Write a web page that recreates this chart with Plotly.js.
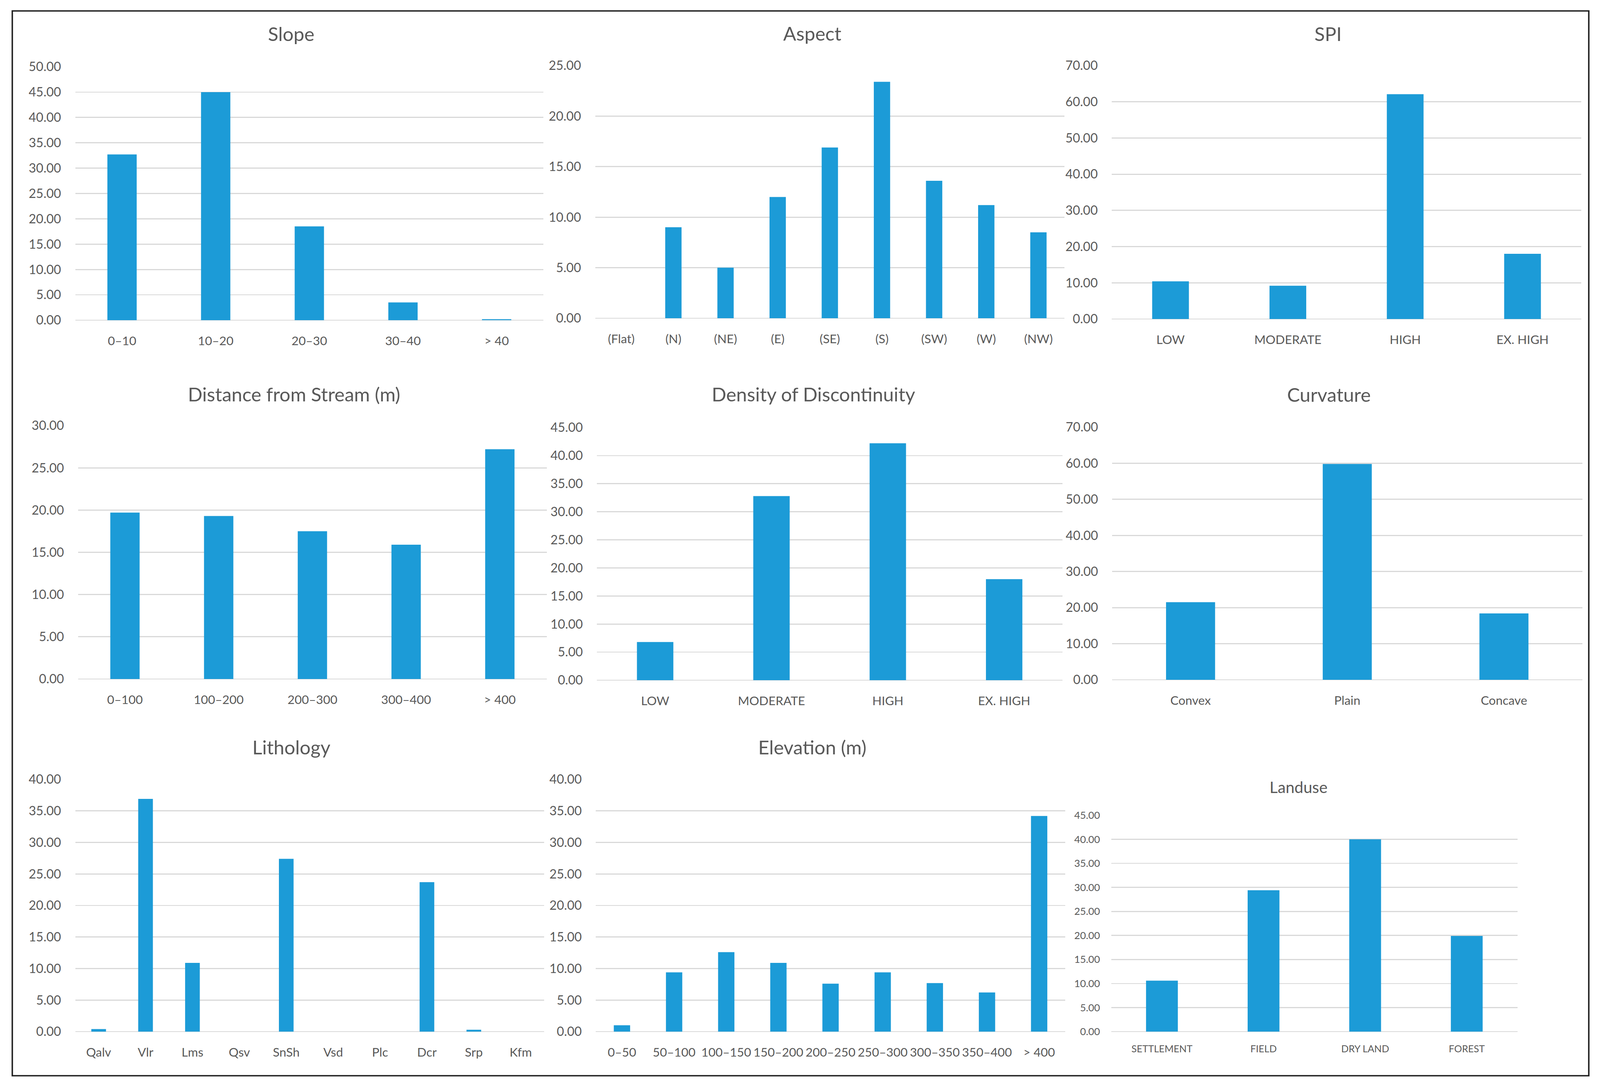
<!DOCTYPE html>
<html>
<head>
<meta charset="utf-8">
<script src="https://cdn.plot.ly/plotly-3.0.1.min.js"></script>
<style>
html,body{margin:0;padding:0;background:#fff;overflow:hidden;width:100%;height:100%;}
#chart{width:100vw;height:100vh;}
</style>
</head>
<body>
<div id="chart"></div>
<script>
// ---- Data ----
const slopeCats = ["0–10", "10–20", "20–30", "30–40", "> 40"];
const slopeVals = [32.7, 45.0, 18.5, 3.5, 0.2];

const aspectCats = ["(Flat)", "(N)", "(NE)", "(E)", "(SE)", "(S)", "(SW)", "(W)", "(NW)"];
const aspectVals = [0, 9.0, 5.0, 12.0, 16.9, 23.4, 13.6, 11.2, 8.5];

const spiCats = ["LOW", "MODERATE", "HIGH", "EX. HIGH"];
const spiVals = [10.4, 9.2, 62.1, 18.0];

const streamCats = ["0–100", "100–200", "200–300", "300–400", "> 400"];
const streamVals = [19.7, 19.3, 17.5, 15.9, 27.2];

const densityCats = ["LOW", "MODERATE", "HIGH", "EX. HIGH"];
const densityVals = [6.8, 32.8, 42.2, 18.0];

const curvCats = ["Convex", "Plain", "Concave"];
const curvVals = [21.5, 59.8, 18.4];

const lithoCats = ["Qalv", "Vlr", "Lms", "Qsv", "SnSh", "Vsd", "Plc", "Dcr", "Srp", "Kfm"];
const lithoVals = [0.4, 36.9, 10.9, 0, 27.4, 0, 0, 23.7, 0.3, 0];

const elevCats = ["0–50", "50–100", "100–150", "150–200", "200–250", "250–300", "300–350", "350–400", "> 400"];
const elevVals = [1.0, 9.4, 12.6, 10.9, 7.6, 9.4, 7.7, 6.2, 34.2];

const landCats = ["SETTLEMENT", "FIELD", "DRY LAND", "FOREST"];
const landVals = [10.6, 29.4, 40.0, 19.9];

const titles = ["Slope", "Aspect", "SPI", "Distance from Stream (m)", "Density of Discontinuity",
                "Curvature", "Lithology", "Elevation (m)", "Landuse"];
const yMax = [50, 25, 70, 30, 45, 70, 40, 40, 45];
const yStep = [5, 5, 10, 5, 5, 10, 5, 5, 5];

// ---- Layout geometry (reference pixels, 4425 x 2789) ----
const RW = 4425, RH = 2789;
const W = window.innerWidth || RW;
const H = window.innerHeight || RH;
const SX = W / RW, SY = H / RH;
const S = Math.min(SX, SY);

const boxes = [
  {x0:208,  x1:1503, yTop:171,  yBot:820,  tx:805,  ty:86},
  {x0:1646, x1:2944, yTop:168,  yBot:815,  tx:2246, ty:85},
  {x0:3075, x1:4373, yTop:168,  yBot:817,  tx:3673, ty:86},
  {x0:216,  x1:1512, yTop:1090, yBot:1739, tx:814,  ty:1009},
  {x0:1651, x1:2938, yTop:1095, yBot:1742, tx:2250, ty:1009},
  {x0:3076, x1:4376, yTop:1094, yBot:1741, tx:3675, ty:1010},
  {x0:208,  x1:1505, yTop:1996, yBot:2642, tx:806,  ty:1913},
  {x0:1648, x1:2946, yTop:1996, yBot:2642, tx:2246, ty:1913},
  {x0:3073, x1:4197, yTop:2088, yBot:2642, tx:3592, ty:2015}
];

const cats = [slopeCats, aspectCats, spiCats, streamCats, densityCats, curvCats, lithoCats, elevCats, landCats];
const vals = [slopeVals, aspectVals, spiVals, streamVals, densityVals, curvVals, lithoVals, elevVals, landVals];

const BAR = "#1c9bd7";
const TXT = "#595959";
const FONT = "Lato, 'Open Sans', sans-serif";
const CLEAR = "rgba(0,0,0,0)";

const data = [];
const layout = {
  width: W, height: H,
  margin: {l:0, r:0, t:0, b:0},
  paper_bgcolor: "#ffffff",
  plot_bgcolor: "#ffffff",
  showlegend: false,
  bargap: 0.687,
  font: {family: FONT, color: TXT},
  annotations: [],
  shapes: [{
    type: "rect", xref: "paper", yref: "paper",
    x0: 34 / RW, x1: 4394 / RW, y0: 1 - 2755 / RH, y1: 1 - 28 / RH,
    line: {color: "#1f1f1f", width: Math.max(1, 4 * S)}, fillcolor: CLEAR
  }]
};

for (let i = 0; i < 9; i++) {
  const b = boxes[i];
  const sfx = i === 0 ? "" : String(i + 1);
  const small = (i === 8);
  data.push({
    type: "bar",
    x: cats[i],
    y: vals[i],
    xaxis: "x" + sfx,
    yaxis: "y" + sfx,
    marker: {color: BAR, line: {width: 0}},
    hoverinfo: "x+y"
  });
  layout["xaxis" + sfx] = {
    domain: [b.x0 / RW, b.x1 / RW],
    anchor: "y" + sfx,
    type: "category",
    showgrid: false,
    showline: false,
    zeroline: false,
    ticks: "outside",
    ticklen: (small ? 22 : 25) * SY,
    tickcolor: CLEAR,
    tickangle: 0,
    tickfont: {family: FONT, size: (small ? 27 : 34) * S, color: TXT},
    fixedrange: true
  };
  layout["yaxis" + sfx] = {
    domain: [1 - b.yBot / RH, 1 - b.yTop / RH],
    anchor: "x" + sfx,
    range: [0, yMax[i]],
    dtick: yStep[i],
    tick0: 0,
    tickformat: ".2f",
    showgrid: true,
    gridcolor: "#d9d9d9",
    gridwidth: Math.max(1, 3 * S),
    zeroline: true,
    zerolinecolor: "#d9d9d9",
    zerolinewidth: Math.max(1, 3 * S),
    showline: false,
    ticks: "outside",
    ticklen: (small ? 24 : 31) * SX,
    tickcolor: CLEAR,
    tickfont: {family: FONT, size: (small ? 28 : 35) * S, color: TXT},
    fixedrange: true
  };
  layout.annotations.push({
    xref: "paper", yref: "paper",
    x: b.tx / RW, y: 1 - b.ty / RH,
    xanchor: "center", yanchor: "middle",
    text: titles[i],
    showarrow: false,
    font: {family: FONT, size: (small ? 44 : 53) * S, color: TXT}
  });
}

Plotly.newPlot("chart", data, layout, {displayModeBar: false, staticPlot: true});
</script>
</body>
</html>
